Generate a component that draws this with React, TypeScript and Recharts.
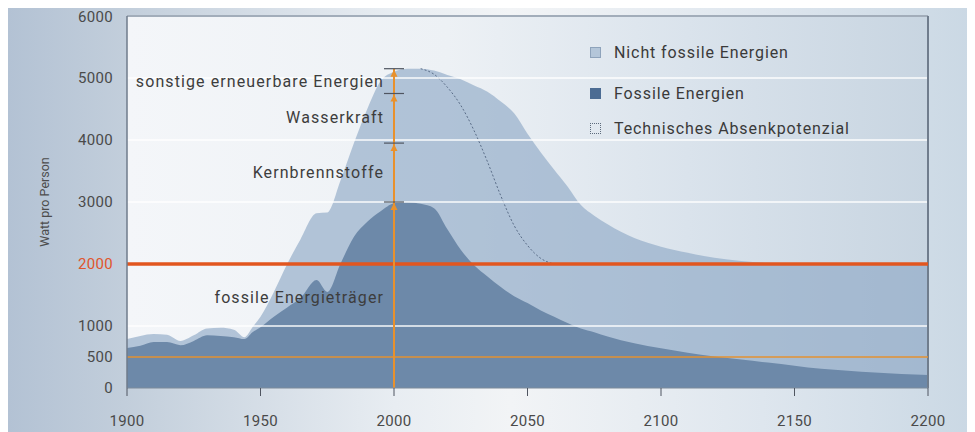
import {
  ComposedChart,
  Area,
  Line,
  XAxis,
  YAxis,
  CartesianGrid,
  ReferenceLine,
  ReferenceDot,
  Legend,
} from "recharts";

// Jahre und Werte (Watt pro Person)
const years = [
  1900, 1905, 1910, 1915, 1920, 1925, 1930, 1935, 1940, 1944, 1947, 1950,
  1955, 1960, 1965, 1971, 1975, 1980, 1985, 1990, 1995, 2000, 2005, 2010,
  2015, 2020, 2025, 2030, 2035, 2040, 2045, 2050, 2055, 2060, 2065, 2070,
  2075, 2080, 2090, 2100, 2110, 2120, 2130, 2140, 2150, 2160, 2170, 2180,
  2190, 2200,
];

// Gesamtverbrauch (fossil + nicht fossil)
const gesamt = [
  790, 840, 870, 860, 760, 850, 960, 970, 940, 820, 980, 1150,
  1550, 2000, 2400, 2820, 2830, 3350, 3950, 4500, 4950, 5100, 5150, 5150,
  5120, 5050, 4980, 4880, 4780, 4620, 4430, 4100, 3800, 3520, 3250, 2950,
  2780, 2640, 2420, 2280, 2180, 2100, 2050, 2020, 2005, 2000, 2000, 2000,
  2000, 2000,
];

const fossil = [
  645, 680, 740, 740, 690, 760, 850, 840, 820, 790, 900, 980,
  1150, 1300, 1450, 1740, 1550, 2010, 2440, 2680, 2850, 2980, 3000, 2970,
  2900, 2560, 2230, 1980, 1800, 1630, 1480, 1370, 1250, 1150, 1050, 960,
  900, 830, 720, 640, 570, 510, 460, 410, 360, 310, 280, 250,
  225, 210,
];

// technisches Absenkpotenzial (gestrichelt)
const absenk: (number | null)[] = [
  null, null, null, null, null, null, null, null, null, null, null, null,
  null, null, null, null, null, null, null, null, null, null, null, 5150,
  5060, 4850, 4560, 4150, 3650, 3100, 2620, 2300, 2090, 2000, null, null,
  null, null, null, null, null, null, null, null, null, null, null, null,
  null, null,
];

const xTicks = [1900, 1950, 2000, 2050, 2100, 2150, 2200];
const yTicks = [0, 500, 1000, 2000, 3000, 4000, 5000, 6000];
const gridLines = [1000, 3000, 4000, 5000];

// Pfeil bei 2000
const arrowYear = 2000;
const arrowLevels = [3000, 3950, 4750, 5150];
const sourceNames = [
  "fossile Energieträger",
  "Kernbrennstoffe",
  "Wasserkraft",
  "sonstige erneuerbare Energien",
];
const sourceLabelAt = [1450, 3475, 4350, 4930];

const legendItems = [
  { name: "Nicht fossile Energien", kind: "light" },
  { name: "Fossile Energien", kind: "dark" },
  { name: "Technisches Absenkpotenzial", kind: "dotted" },
];

const data = years.map((year, i) => ({
  year,
  gesamt: gesamt[i],
  fossil: fossil[i],
  absenk: absenk[i],
}));

const YTick = (props: any) => {
  const { x, y, payload } = props;
  return (
    <text
      x={x}
      y={y}
      dy={5}
      textAnchor="end"
      fontSize={15}
      letterSpacing={0.3}
      fill={payload.value === 2000 ? "#e0552b" : "#4a4a4a"}
    >
      {payload.value}
    </text>
  );
};

const ArrowHead = (props: any) => {
  const { cx, cy } = props;
  return (
    <g>
      <line x1={cx - 10} x2={cx + 10} y1={cy} y2={cy} stroke="#4f5560" strokeWidth={1.2} />
      <path d={`M${cx},${cy + 1} L${cx - 3.5},${cy + 8} L${cx + 3.5},${cy + 8} Z`} fill="#e8912d" />
    </g>
  );
};

const SourceLabel = (name: string) => (props: any) => {
  const { cx, cy } = props;
  return (
    <text
      x={cx - 10}
      y={cy}
      dy={5}
      textAnchor="end"
      fontSize={16}
      letterSpacing={1.1}
      fill="#3d3d3d"
    >
      {name}
    </text>
  );
};

const LegendBox = () => (
  <div style={{ fontSize: 16, letterSpacing: 0.9, color: "#3a3a3a" }}>
    {legendItems.map((item, i) => (
      <div
        key={item.name}
        style={{
          display: "flex",
          alignItems: "center",
          height: 20,
          marginTop: i === 0 ? 0 : i === 1 ? 21 : 15,
        }}
      >
        <span
          style={{
            display: "inline-block",
            width: 9,
            height: 9,
            marginRight: 13,
            background:
              item.kind === "light" ? "#b4c6d9" : item.kind === "dark" ? "#4c6c93" : "#e2e9f0",
            border:
              item.kind === "dotted"
                ? "1px dotted #5d6b7c"
                : item.kind === "light"
                ? "1px solid #8ea3bb"
                : "1px solid #4c6c93",
          }}
        />
        {item.name}
      </div>
    ))}
  </div>
);

export default function App() {
  return (
    <div
      style={{
        width: 967,
        height: 424,
        fontFamily: "Roboto, 'Noto Sans', sans-serif",
        background:
          "linear-gradient(90deg, #b3c2d4 0%, #c2cedb 12%, #e8edf2 40%, #f2f4f6 52%, #dee6ee 78%, #cad8e4 100%)",
      }}
    >
      <ComposedChart
        width={967}
        height={424}
        data={data}
        margin={{ top: 8, right: 47, bottom: 0, left: 0 }}
      >
        <defs>
          <linearGradient id="plotBg" x1="0" y1="0" x2="1" y2="0">
            <stop offset="0%" stopColor="#f4f6f9" />
            <stop offset="40%" stopColor="#edf1f5" />
            <stop offset="70%" stopColor="#dae3ec" />
            <stop offset="100%" stopColor="#c8d5e1" />
          </linearGradient>
        </defs>
        <CartesianGrid horizontal={false} vertical={false} fill="url(#plotBg)" />
        <XAxis
          dataKey="year"
          type="number"
          domain={[1900, 2200]}
          ticks={xTicks}
          tickSize={8}
          tickMargin={19}
          height={44}
          stroke="#4f5560"
          tick={{ fill: "#4a4a4a", fontSize: 15, letterSpacing: 0.3 }}
          axisLine={{ stroke: "#7d8a9a" }}
        />
        <YAxis
          type="number"
          domain={[0, 6000]}
          ticks={yTicks}
          width={119}
          tickLine={false}
          tickSize={0}
          tickMargin={14}
          tick={<YTick />}
          axisLine={{ stroke: "#6f7b8b", strokeWidth: 1.5 }}
          label={{
            value: "Watt pro Person",
            angle: -90,
            position: "insideLeft",
            offset: 37,
            style: { fontSize: 12.5, fill: "#4d4d4d", textAnchor: "middle" },
          }}
        />
        <Area
          type="monotone"
          dataKey="gesamt"
          stroke="none"
          fill="#8fa9c6"
          fillOpacity={0.65}
          isAnimationActive={false}
        />
        <Area
          type="monotone"
          dataKey="fossil"
          stroke="none"
          fill="#6d89a9"
          fillOpacity={1}
          isAnimationActive={false}
        />
        <Line
          type="monotone"
          dataKey="absenk"
          stroke="#5a6d88"
          strokeWidth={1}
          strokeDasharray="2 2"
          dot={false}
          activeDot={false}
          isAnimationActive={false}
        />
        {gridLines.map((v) => (
          <ReferenceLine key={v} y={v} stroke="#ffffff" strokeWidth={2} strokeOpacity={0.7} />
        ))}
        <ReferenceLine y={6000} stroke="#a2adba" strokeWidth={2} />
        <ReferenceLine x={2200} stroke="#707d8d" strokeWidth={2} />
        <ReferenceLine y={500} stroke="#e39232" strokeWidth={1.5} />
        <ReferenceLine y={2000} stroke="#e2561f" strokeWidth={3.5} />
        <ReferenceLine
          segment={[
            { x: arrowYear, y: 0 },
            { x: arrowYear, y: arrowLevels[arrowLevels.length - 1] },
          ]}
          stroke="#e8912d"
          strokeWidth={2}
        />
        {arrowLevels.map((v) => (
          <ReferenceDot key={v} x={arrowYear} y={v} r={3} shape={ArrowHead} />
        ))}
        {sourceNames.map((name, i) => (
          <ReferenceDot
            key={name}
            x={arrowYear}
            y={sourceLabelAt[i]}
            r={1}
            shape={SourceLabel(name)}
          />
        ))}
        <Legend
          layout="horizontal"
          verticalAlign="middle"
          align="center"
          content={<LegendBox />}
          wrapperStyle={{ left: 582, top: 34, width: 340 }}
        />
      </ComposedChart>
    </div>
  );
}
